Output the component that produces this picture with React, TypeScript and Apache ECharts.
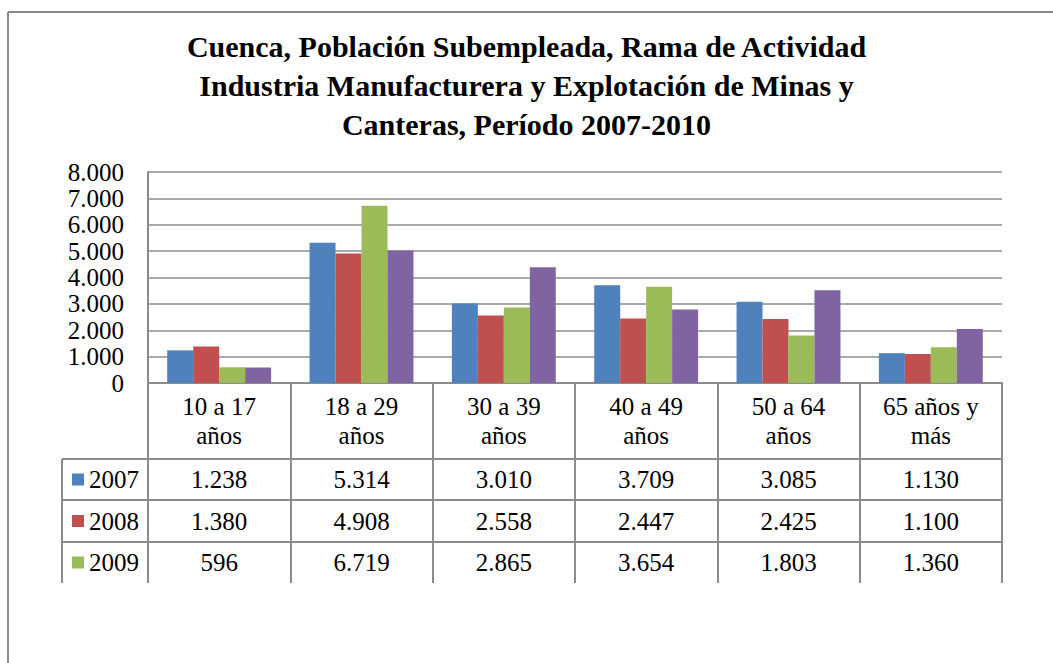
import React, { useEffect, useRef } from 'react';
import * as echarts from 'echarts';

const titleText = 'Cuenca, Población Subempleada, Rama de Actividad\nIndustria Manufacturera y Explotación de Minas y\nCanteras, Período 2007-2010';
const categories = ['10 a 17\naños', '18 a 29\naños', '30 a 39\naños', '40 a 49\naños', '50 a 64\naños', '65 años y\nmás'];
const seriesNames = ['2007', '2008', '2009', '2010'];
const values2007 = [1238, 5314, 3010, 3709, 3085, 1130];
const values2008 = [1380, 4908, 2558, 2447, 2425, 1100];
const values2009 = [596, 6719, 2865, 3654, 1803, 1360];
const values2010 = [590, 5020, 4390, 2790, 3520, 2050];
const seriesValues = [values2007, values2008, values2009, values2010];
const visibleTableRows = 3;
const colors = ['#4F81BD', '#C0504D', '#9BBB59', '#8064A2'];

const FONT = "'Liberation Serif', 'Times New Roman', serif";
const LINE = '#8c8c8c';

const fmt = (n: number) => String(n).replace(/\B(?=(\d{3})+(?!\d))/g, '.');

export default function App() {
  const ref = useRef<HTMLDivElement>(null);
  useEffect(() => {
    if (!ref.current) return;
    const chart = echarts.init(ref.current, undefined, { renderer: 'svg' });
    const gridLeft = 148;
    const gridRight = 1002;
    const gridTop = 172;
    const gridBottom = 383;
    chart.setOption({
      animation: false,
      backgroundColor: '#ffffff',
      title: {
        text: titleText,
        left: 'center',
        top: 22,
        textStyle: {
          fontFamily: FONT,
          fontWeight: 'bold',
          fontSize: 30,
          lineHeight: 39,
          color: '#000',
        },
      },
      grid: {
        left: gridLeft,
        right: 1053 - gridRight,
        top: gridTop,
        bottom: 663 - gridBottom,
        containLabel: false,
      },
      xAxis: {
        type: 'category',
        data: categories,
        axisLine: { show: true, lineStyle: { color: LINE, width: 2 } },
        axisTick: { show: true, length: 200, interval: 0, lineStyle: { color: LINE, width: 2 } },
        axisLabel: {
          interval: 0,
          margin: 9,
          fontFamily: FONT,
          fontSize: 25,
          lineHeight: 29,
          color: '#000',
        },
        splitLine: { show: false },
      },
      yAxis: {
        type: 'value',
        min: 0,
        max: 8000,
        interval: 1000,
        axisLine: { show: true, lineStyle: { color: LINE, width: 2 } },
        axisTick: { show: false },
        axisLabel: {
          margin: 24,
          fontFamily: FONT,
          fontSize: 25,
          color: '#000',
          formatter: (v: number) => fmt(v),
        },
        splitLine: { show: true, lineStyle: { color: LINE, width: 1.5 } },
      },
      series: seriesNames.map((name, i) => ({
        name,
        type: 'bar',
        data: seriesValues[i],
        barGap: '0%',
        barCategoryGap: '27%',
        itemStyle: { color: colors[i] },
      })),
    });

    const xs = categories.map((_, i) => chart.convertToPixel({ xAxisIndex: 0 }, i) as number);
    const tableLeft = 62;
    const rowTops = [459, 500, 542];
    const tableBottom = 583;
    const graphic: any[] = [];
    graphic.push({ type: 'line', shape: { x1: 8, y1: 12, x2: 1053, y2: 12 }, style: { stroke: '#8a8a8a', lineWidth: 2 } });
    graphic.push({ type: 'line', shape: { x1: 8, y1: 12, x2: 8, y2: 663 }, style: { stroke: '#8a8a8a', lineWidth: 2 } });
    graphic.push({ type: 'line', shape: { x1: tableLeft, y1: rowTops[0], x2: tableLeft, y2: tableBottom }, style: { stroke: LINE, lineWidth: 2 } });
    rowTops.forEach((y) => {
      graphic.push({ type: 'line', shape: { x1: tableLeft, y1: y, x2: gridRight, y2: y }, style: { stroke: LINE, lineWidth: 2 } });
    });
    for (let r = 0; r < visibleTableRows; r++) {
      const top = rowTops[r];
      const bottom = r + 1 < rowTops.length ? rowTops[r + 1] : tableBottom;
      const cy = (top + bottom) / 2;
      graphic.push({ type: 'rect', shape: { x: 72, y: cy - 6, width: 12, height: 12 }, style: { fill: colors[r] } });
      graphic.push({
        type: 'text',
        x: 89,
        y: cy,
        style: { text: seriesNames[r], fontFamily: FONT, fontSize: 25, fill: '#000', textAlign: 'left', textVerticalAlign: 'middle' },
      });
      seriesValues[r].forEach((v, i) => {
        graphic.push({
          type: 'text',
          x: xs[i],
          y: cy,
          style: { text: fmt(v), fontFamily: FONT, fontSize: 25, fill: '#000', textAlign: 'center', textVerticalAlign: 'middle' },
        });
      });
    }
    chart.setOption({ graphic });
    return () => chart.dispose();
  }, []);
  return <div ref={ref} style={{ position: 'absolute', left: 0, top: 0, width: 1053, height: 663 }} />;
}
